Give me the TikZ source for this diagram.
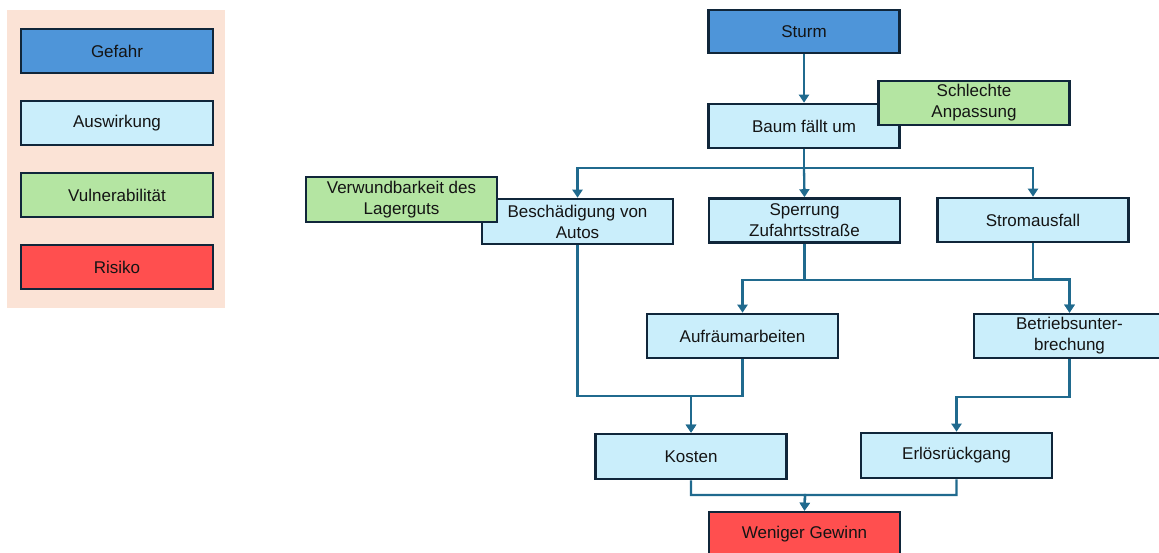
\documentclass[tikz,border=0pt]{standalone}
\usepackage{fontspec}
\setmainfont{Liberation Sans}
\usetikzlibrary{arrows.meta}
\definecolor{gefahrc}{HTML}{4E95D9}
\definecolor{auswc}{HTML}{CAEEFB}
\definecolor{vulnc}{HTML}{B4E5A2}
\definecolor{risikoc}{HTML}{FF4F4F}
\definecolor{legbg}{HTML}{FBE3D6}
\definecolor{boxline}{HTML}{10263A}
\definecolor{connc}{HTML}{206A8E}
\definecolor{txtc}{HTML}{141414}
\tikzset{
  box/.style={draw=boxline, line width=2.6pt, minimum width=191pt, minimum height=44pt,
    inner sep=0pt, align=center, text=txtc, font=\fontsize{17}{21}\selectfont},
  gefahr/.style={box, fill=gefahrc},
  ausw/.style={box, fill=auswc},
  vuln/.style={box, fill=vulnc},
  risiko/.style={box, fill=risikoc},
  conn/.style={draw=connc, line width=2.3pt, -{Triangle[length=8pt,width=10pt]}}
}
\begin{document}
\begin{tikzpicture}[x=1pt,y=-1pt]
\useasboundingbox (0,0) rectangle (1159,552);
% legend
\fill[legbg] (7,10) rectangle (225,308);
\node[gefahr, minimum width=192pt] (lg) at (117,51) {Gefahr};
\node[ausw, minimum width=192pt] (la) at (117,123) {Auswirkung};
\node[vuln, minimum width=192pt] (lv) at (117,195) {Vulnerabilität};
\node[risiko, minimum width=192pt] (lr) at (117,267) {Risiko};
% diagram nodes
\node[gefahr, minimum height=43pt] (sturm) at (804,31.5) {Sturm};
\node[ausw] (baum) at (804,126) {Baum fällt um};
\node[vuln] (schl) at (974,103) {Schlechte\\Anpassung};
\node[ausw, minimum height=45pt] (besch) at (577.5,221.5) {Beschädigung von\\Autos};
\node[vuln, minimum height=45pt] (verw) at (401.5,199.5) {Verwundbarkeit des\\Lagerguts};
\node[ausw] (sperr) at (804.5,220.5) {Sperrung\\Zufahrtsstraße};
\node[ausw] (strom) at (1033,220) {Stromausfall};
\node[ausw] (aufr) at (742.5,336) {Aufräumarbeiten};
\node[ausw] (betr) at (1069.5,336) {Betriebsunter-\\brechung};
\node[ausw, minimum height=45pt] (kosten) at (691,456.5) {Kosten};
\node[ausw, minimum height=45pt] (erlos) at (956.5,455.5) {Erlösrückgang};
\node[risiko] (wen) at (804.5,534) {Weniger Gewinn};
% junctions
\coordinate (s1) at (804,168);
\coordinate (j2) at (691,396);
\coordinate (j3) at (805,495);
% connectors
\draw[conn] (sturm) -- (baum);
\draw[conn] (baum.south) -- (s1) -| (besch.north);
\draw[conn] (s1) -- (sperr.north);
\draw[conn] (s1) -| (strom.north);
\draw[conn] (sperr.south) -- ++(0,36) -| (aufr.north);
\draw[conn] (sperr.south) -- ++(0,36) -| (betr.north);
\draw[conn] (strom.south) -- ++(0,36) -| (betr.north);
\draw[conn] (besch.south) |- (j2) -- (kosten.north);
\draw[conn] (aufr.south) |- (j2) -- (kosten.north);
\draw[conn] (betr.south) -- ++(0,38) -| (erlos.north);
\draw[conn] (kosten.south) |- (j3) -- (wen.north);
\draw[conn] (erlos.south) |- (j3) -- (wen.north);
\end{tikzpicture}
\end{document}
